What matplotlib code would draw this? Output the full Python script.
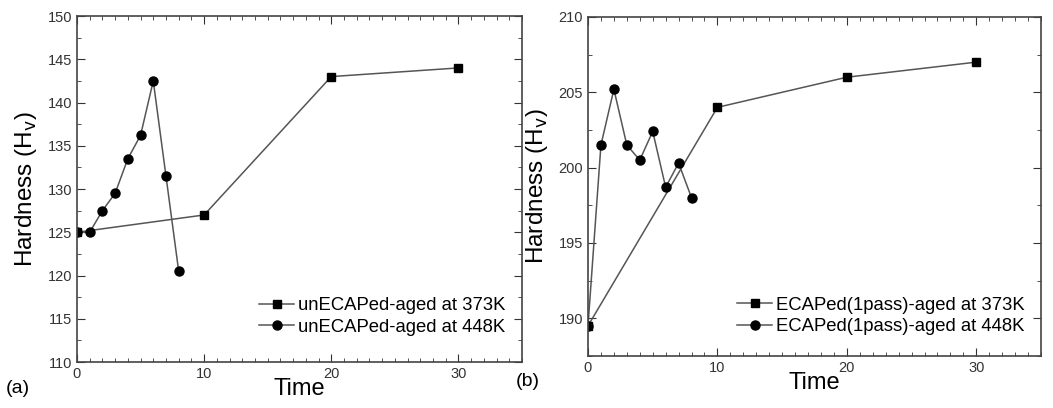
import matplotlib
matplotlib.use("Agg")
import matplotlib.pyplot as plt
from matplotlib.ticker import MultipleLocator

plt.rcParams['font.family'] = ['Liberation Sans', 'DejaVu Sans']

# panel (a): unECAPed
a_t373 = [0, 10, 20, 30]
a_h373 = [125, 127, 143, 144]
a_t448 = [0, 1, 2, 3, 4, 5, 6, 7, 8]
a_h448 = [125, 125, 127.5, 129.5, 133.5, 136.2, 142.5, 131.5, 120.5]

# panel (b): ECAPed 1 pass
b_t373 = [0, 10, 20, 30]
b_h373 = [189.5, 204, 206, 207]
b_t448 = [0, 1, 2, 3, 4, 5, 6, 7, 8]
b_h448 = [189.5, 201.5, 205.2, 201.5, 200.5, 202.4, 198.7, 200.3, 198]

fig = plt.figure(figsize=(10.53, 4.08), dpi=100)
ax1 = fig.add_axes([0.0731, 0.1127, 0.4226, 0.848])
ax2 = fig.add_axes([0.5584, 0.1275, 0.4302, 0.831])

def style(ax, ylim, ymaj, ymin, panel, legy):
    ax.set_xlim(0, 35)
    ax.set_ylim(*ylim)
    ax.xaxis.set_major_locator(MultipleLocator(10))
    ax.xaxis.set_minor_locator(MultipleLocator(1))
    ax.yaxis.set_major_locator(MultipleLocator(ymaj))
    ax.yaxis.set_minor_locator(MultipleLocator(ymin))
    ax.tick_params(which='both', direction='in', top=True, right=True,
                   labelsize=10.5, labelcolor='#333333', color='#333333')
    ax.tick_params(which='major', length=6)
    ax.tick_params(which='minor', length=3)
    for s in ax.spines.values():
        s.set_color('#444444')
        s.set_linewidth(1.2)
    ax.set_xlabel('Time', fontsize=17, labelpad=-2)
    ax.set_ylabel('Hardness (H$_\\mathrm{v}$)', fontsize=17.5, labelpad=6)
    ax.legend(loc='lower right', frameon=False, fontsize=13.3,
              handlelength=1.9, handletextpad=0.2, labelspacing=0.25,
              borderaxespad=0.5, bbox_to_anchor=(1.0, legy))
    ax.text(-0.16, -0.09, panel, transform=ax.transAxes, fontsize=14)

ax1.plot(a_t373, a_h373, '-s', color='#555555', lw=1.1, ms=6,
         mfc='black', mec='black', label='unECAPed-aged at 373K')
ax1.plot(a_t448, a_h448, '-o', color='#555555', lw=1.1, ms=6.5,
         mfc='black', mec='black', label='unECAPed-aged at 448K')
style(ax1, (110, 150), 5, 2.5, '(a)', 0.028)

ax2.plot(b_t373, b_h373, '-s', color='#555555', lw=1.1, ms=6,
         mfc='black', mec='black', label='ECAPed(1pass)-aged at 373K')
ax2.plot(b_t448, b_h448, '-o', color='#555555', lw=1.1, ms=6.5,
         mfc='black', mec='black', label='ECAPed(1pass)-aged at 448K')
style(ax2, (187.5, 210), 5, 2.5, '(b)', 0.012)

fig.savefig('out.png', dpi=100)
